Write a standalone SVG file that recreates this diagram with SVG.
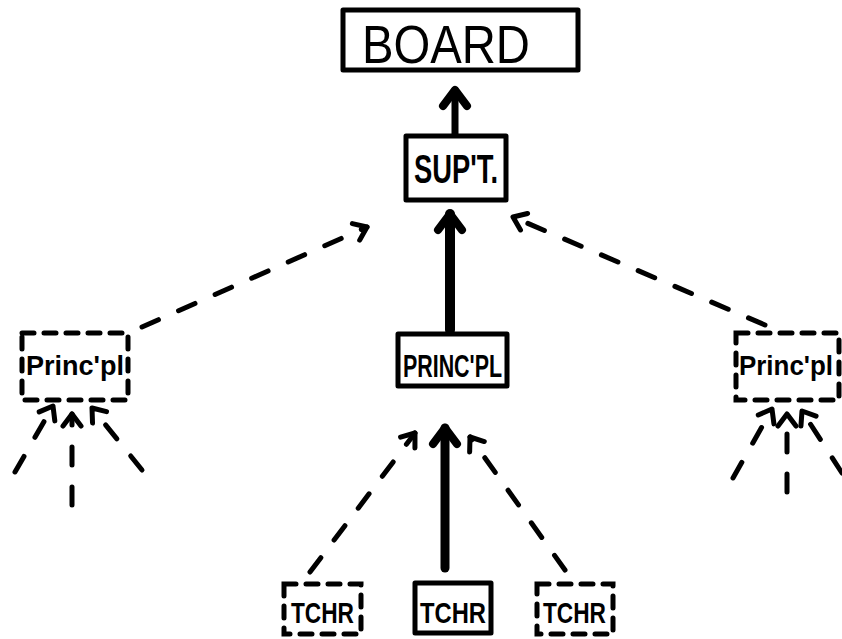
<svg xmlns="http://www.w3.org/2000/svg" width="842" height="639" viewBox="0 0 842 639">
  <defs>
    <style>
      .box { fill: none; stroke: #000; stroke-width: 5; stroke-linejoin: round; }
      .dbox { fill: none; stroke: #000; stroke-width: 5; stroke-dasharray: 12 10; stroke-linecap: round; }
      .lbl { font-family: "Liberation Sans", "DejaVu Sans", sans-serif; fill: #000; }
      .solid { stroke: #000; fill: none; stroke-linecap: round; }
      .dash { stroke: #000; fill: none; stroke-width: 5; stroke-linecap: round; stroke-dasharray: 18 22; }
    </style>
    <marker id="head" markerUnits="userSpaceOnUse" viewBox="-16 -12 20 24" refX="0" refY="0" markerWidth="20" markerHeight="24" orient="auto" overflow="visible">
      <path d="M-12,-9 L0,0 L-12,9" fill="none" stroke="#000" stroke-width="5" stroke-linecap="round" stroke-linejoin="round"/>
    </marker>
    <marker id="headBig" markerUnits="userSpaceOnUse" viewBox="-20 -16 24 32" refX="0" refY="0" markerWidth="24" markerHeight="32" orient="auto" overflow="visible">
      <path d="M-16,-12 L0,0 L-16,12" fill="none" stroke="#000" stroke-width="8" stroke-linecap="round" stroke-linejoin="round"/>
    </marker>
  </defs>

  <rect width="842" height="639" fill="#fff"/>

  <!-- connectors -->
  <g id="connectors">
    <line class="solid" x1="455" y1="134" x2="455" y2="90" stroke-width="7" marker-end="url(#headBig)"/>
    <line class="solid" x1="450" y1="330" x2="450" y2="214" stroke-width="10" marker-end="url(#headBig)"/>
    <line class="dash" x1="142" y1="327" x2="367" y2="227" marker-end="url(#head)"/>
    <line class="dash" x1="765" y1="325" x2="513" y2="217" marker-end="url(#head)"/>
    <line class="solid" x1="445" y1="568" x2="445" y2="428" stroke-width="9" marker-end="url(#headBig)"/>
    <line class="dash" x1="310" y1="572" x2="415" y2="433" marker-end="url(#head)"/>
    <line class="dash" x1="565" y1="570" x2="470" y2="437" marker-end="url(#head)"/>
    <line class="dash" x1="15" y1="472" x2="53" y2="406" marker-end="url(#head)"/>
    <line class="dash" x1="72" y1="505" x2="72" y2="414" marker-end="url(#head)"/>
    <line class="dash" x1="142" y1="470" x2="92" y2="408" marker-end="url(#head)"/>
    <line class="dash" x1="733" y1="478" x2="772" y2="409" marker-end="url(#head)"/>
    <line class="dash" x1="787" y1="492" x2="787" y2="414" marker-end="url(#head)"/>
    <line class="dash" x1="842" y1="473" x2="802" y2="411" marker-end="url(#head)"/>
  </g>

  <!-- nodes -->
  <g id="board">
    <rect class="box" x="343" y="10" width="235" height="60" stroke-width="4"/>
    <text class="lbl" x="362" y="63" font-size="54" textLength="168" lengthAdjust="spacingAndGlyphs">BOARD</text>
  </g>
  <g id="supt">
    <rect class="box" x="406" y="136" width="100" height="64"/>
    <text class="lbl" x="414" y="183" font-size="40" font-weight="bold" textLength="84" lengthAdjust="spacingAndGlyphs">SUP'T.</text>
  </g>
  <g id="principal-left">
    <rect class="dbox" x="22" y="333" width="106" height="67"/>
    <text class="lbl" x="26" y="375" font-size="28" font-weight="bold" textLength="98" lengthAdjust="spacingAndGlyphs">Princ'pl</text>
  </g>
  <g id="principal-mid">
    <rect class="box" x="398" y="334" width="109" height="52"/>
    <text class="lbl" x="403" y="377" font-size="31" font-weight="bold" textLength="99" lengthAdjust="spacingAndGlyphs">PRINC'PL</text>
  </g>
  <g id="principal-right">
    <rect class="dbox" x="736" y="333" width="103" height="67"/>
    <text class="lbl" x="739" y="375" font-size="28" font-weight="bold" textLength="94" lengthAdjust="spacingAndGlyphs">Princ'pl</text>
  </g>
  <g id="teacher-left">
    <rect class="dbox" x="284" y="584" width="77" height="50"/>
    <text class="lbl" x="291" y="623" font-size="30" font-weight="bold" textLength="63" lengthAdjust="spacingAndGlyphs">TCHR</text>
  </g>
  <g id="teacher-mid">
    <rect class="box" x="415" y="583" width="76" height="50"/>
    <text class="lbl" x="420" y="623" font-size="30" font-weight="bold" textLength="66" lengthAdjust="spacingAndGlyphs">TCHR</text>
  </g>
  <g id="teacher-right">
    <rect class="dbox" x="537" y="584" width="76" height="50"/>
    <text class="lbl" x="543" y="623" font-size="30" font-weight="bold" textLength="63" lengthAdjust="spacingAndGlyphs">TCHR</text>
  </g>
</svg>
